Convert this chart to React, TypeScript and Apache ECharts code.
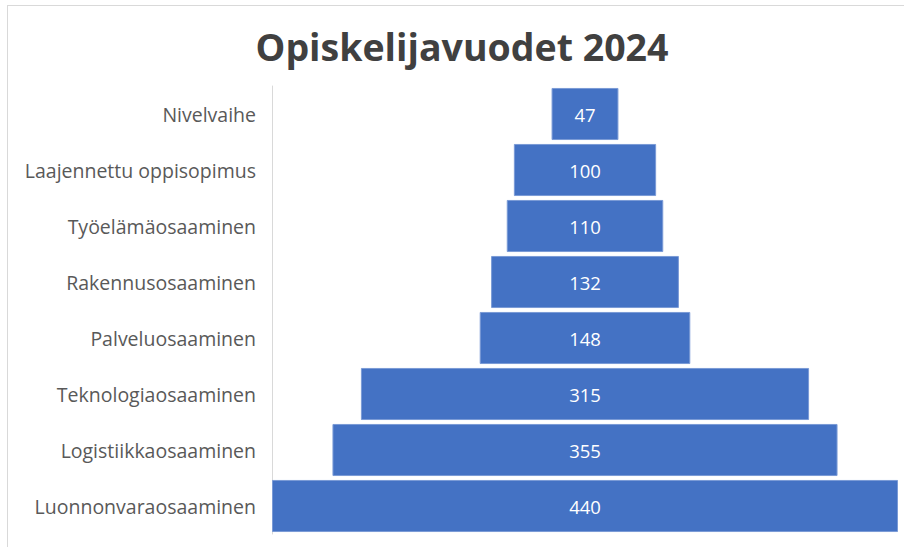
import React, { useEffect, useRef } from "react";
import * as echarts from "echarts";

const title = "Opiskelijavuodet 2024";
const categories = [
  "Nivelvaihe",
  "Laajennettu oppisopimus",
  "Työelämäosaaminen",
  "Rakennusosaaminen",
  "Palveluosaaminen",
  "Teknologiaosaaminen",
  "Logistiikkaosaaminen",
  "Luonnonvaraosaaminen",
];
const values = [47, 100, 110, 132, 148, 315, 355, 440];

export default function App() {
  const ref = useRef<HTMLDivElement>(null);
  useEffect(() => {
    if (!ref.current) return;
    const chart = echarts.init(ref.current, null, { renderer: "svg" });
    const maxV = Math.max(...values);
    const offsets = values.map((v) => (maxV - v) / 2);
    const font = "'Open Sans', sans-serif";
    chart.setOption({
      animation: false,
      backgroundColor: "#ffffff",
      title: {
        text: title,
        left: 457,
        textAlign: "center",
        top: 22,
        textStyle: {
          fontFamily: font,
          fontWeight: "bold",
          fontSize: 37.5,
          color: "#404040",
        },
      },
      graphic: [
        {
          type: "line",
          shape: { x1: 7, y1: 5.5, x2: 904, y2: 5.5 },
          style: { stroke: "#d9d9d9", lineWidth: 1 },
        },
        {
          type: "line",
          shape: { x1: 7.5, y1: 5, x2: 7.5, y2: 547 },
          style: { stroke: "#d9d9d9", lineWidth: 1 },
        },
      ],
      grid: { left: 272, right: 6, top: 86, height: 448 },
      xAxis: {
        type: "value",
        min: 0,
        max: maxV,
        show: false,
      },
      yAxis: {
        type: "category",
        data: categories,
        inverse: true,
        axisLine: { show: true, lineStyle: { color: "#d9d9d9", width: 1 } },
        axisTick: { show: false },
        axisLabel: {
          margin: 16,
          color: "#595959",
          fontFamily: font,
          fontSize: 19.5,
        },
      },
      series: [
        {
          type: "bar",
          stack: "f",
          data: offsets,
          itemStyle: { color: "transparent" },
          barCategoryGap: "7%",
          silent: true,
        },
        {
          type: "bar",
          stack: "f",
          data: values,
          barCategoryGap: "7%",
          itemStyle: {
            color: "#4472c4",
            borderColor: "#7a9ad6",
            borderWidth: 1,
          },
          label: {
            show: true,
            position: "inside",
            color: "#ffffff",
            fontFamily: font,
            fontSize: 18.5,
          },
        },
      ],
    });
    return () => chart.dispose();
  }, []);
  return (
    <div
      ref={ref}
      style={{ width: 904, height: 547, position: "absolute", left: 0, top: 0 }}
    />
  );
}
